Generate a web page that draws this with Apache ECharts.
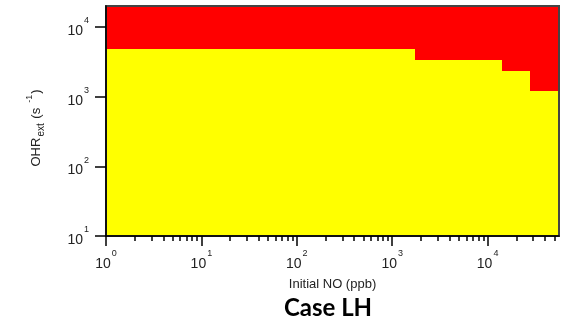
<!DOCTYPE html>
<html>
<head>
<meta charset="utf-8">
<script src="https://cdn.jsdelivr.net/npm/echarts@6/dist/echarts.min.js"></script>
<style>
  html, body { margin: 0; padding: 0; background: #fff; }
  #chart { width: 563px; height: 326px; }
</style>
</head>
<body>
<div id="chart"></div>
<script>
// Regime map: OH reactivity (OHR_ext) versus initial NO, case LH.
// Each column spans [noStart, noEnd]; below ohrBoundary is the yellow regime, above it the red one.
const noStart = [1, 1740, 14200, 28100];
const noEnd = [1740, 14200, 28100, 56000];
const ohrBoundary = [4790, 3410, 2370, 1210];

// Axis ranges and tick values
const xRange = [1, 56000];
const yRange = [10, 20000];
const xMajorTicks = [1, 10, 100, 1000, 10000];
const yMajorTicks = [10, 100, 1000, 10000];

const xMinorTicks = [];
for (let d = 1; d <= 10000; d *= 10) {
  for (let m = 2; m <= 9; m++) {
    if (m * d < xRange[1]) xMinorTicks.push(m * d);
  }
}

const cells = noStart.map((x0, i) => [x0, noEnd[i], ohrBoundary[i]]);

const FONT = 'Liberation Sans';
const powRich = {
  b: { fontFamily: FONT, fontSize: 14, color: '#222', lineHeight: 14, padding: [8, 0, 0, 0] },
  s: { fontFamily: FONT, fontSize: 9, color: '#222', lineHeight: 10, padding: [0, 0, 12, 1] }
};
function powLabel(v) {
  const e = Math.round(Math.log10(v));
  return '{b|10}{s|' + e + '}';
}

const chart = echarts.init(document.getElementById('chart'), null, { renderer: 'canvas' });

chart.setOption({
  animation: false,
  backgroundColor: '#fff',
  grid: {
    left: 106, top: 6, right: 4, bottom: 90,
    show: true, borderColor: '#444', borderWidth: 2, backgroundColor: 'transparent'
  },
  xAxis: [
    {
      type: 'log', logBase: 10, min: xRange[0], max: xRange[1],
      name: 'Initial NO (ppb)', nameLocation: 'middle', nameGap: 42,
      nameTextStyle: { fontFamily: FONT, fontSize: 13, color: '#222' },
      axisLine: { show: true, lineStyle: { color: '#000', width: 1.5 } },
      axisTick: { show: true, length: 10, customValues: xMajorTicks, lineStyle: { color: '#000', width: 1.5 } },
      axisLabel: { customValues: xMajorTicks, margin: 17, formatter: powLabel, rich: powRich },
      splitLine: { show: false }
    },
    {
      type: 'log', logBase: 10, min: xRange[0], max: xRange[1], position: 'bottom',
      axisLine: { show: false },
      axisTick: { show: true, length: 5, customValues: xMinorTicks, lineStyle: { color: '#000', width: 1.5 } },
      axisLabel: { show: false },
      splitLine: { show: false }
    }
  ],
  yAxis: {
    type: 'log', logBase: 10, min: yRange[0], max: yRange[1],
    name: '{a|OHR}{sub|ext}{a| (s}{sup|-1}{a|)}{gap| }',
    nameLocation: 'middle', nameGap: 63, nameRotate: 90,
    nameTextStyle: {
      rich: {
        a: { fontFamily: FONT, fontSize: 13, color: '#222', lineHeight: 14, padding: [6, 0, 6, 0] },
        sub: { fontFamily: FONT, fontSize: 10, color: '#222', lineHeight: 10, padding: [10, 1, 0, 1] },
        sup: { fontFamily: FONT, fontSize: 9, color: '#222', lineHeight: 10, padding: [0, 1, 12, 5] },
        gap: { fontSize: 13, width: 14 }
      }
    },
    axisLine: { show: true, lineStyle: { color: '#000', width: 1.5 } },
    axisTick: { show: true, length: 11, customValues: yMajorTicks, lineStyle: { color: '#000', width: 1.5 } },
    axisLabel: { customValues: yMajorTicks, margin: 17, formatter: powLabel, rich: powRich },
    splitLine: { show: false }
  },
  graphic: [{
    type: 'text', x: 328, y: 308,
    style: {
      text: 'Case LH', fontFamily: 'Lato', fontWeight: 'bold', fontSize: 24,
      fill: '#000', align: 'center', verticalAlign: 'middle'
    }
  }],
  series: [{
    type: 'custom',
    z: -1,
    xAxisIndex: 0,
    data: cells,
    encode: { x: [0, 1], y: 2 },
    renderItem: function (params, api) {
      const x0 = api.value(0), x1 = api.value(1), b = api.value(2);
      const pLow = api.coord([x0, yRange[0]]).map(Math.round);
      const pBound = api.coord([x1, b]).map(Math.round);
      const pTop = api.coord([x1, yRange[1]]).map(Math.round);
      const w = pBound[0] - pLow[0] + 1;
      return {
        type: 'group',
        children: [
          { type: 'rect', shape: { x: pLow[0], y: pBound[1], width: w, height: pLow[1] - pBound[1] },
            style: { fill: '#ffff00' } },
          { type: 'rect', shape: { x: pLow[0], y: pTop[1], width: w, height: pBound[1] - pTop[1] },
            style: { fill: '#ff0000' } }
        ]
      };
    }
  }]
});
</script>
</body>
</html>
